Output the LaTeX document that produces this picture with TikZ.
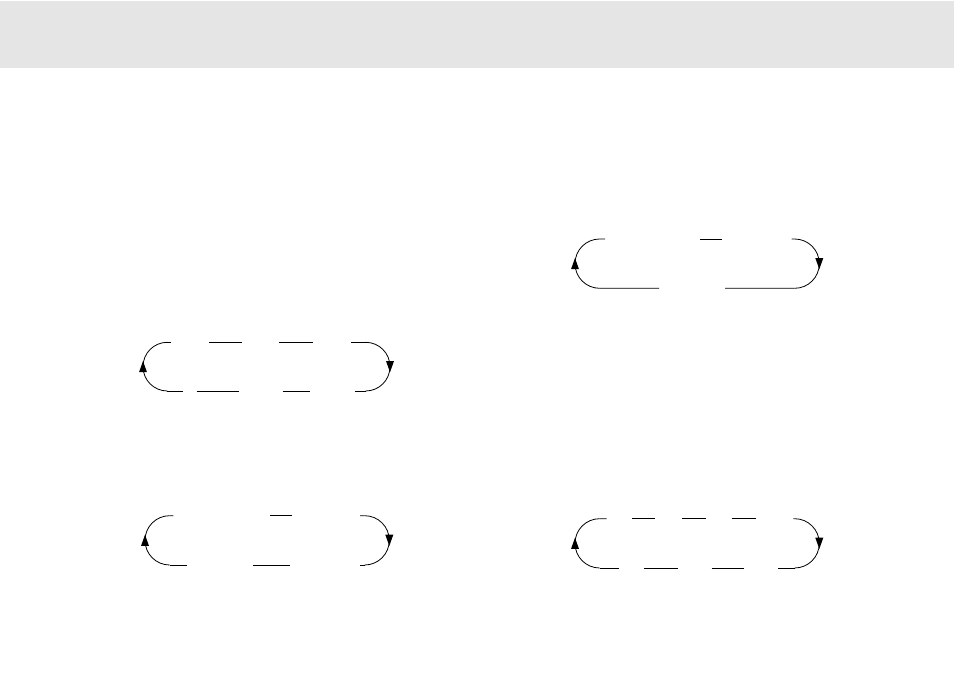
\documentclass[tikz,border=0pt]{standalone}
\usetikzlibrary{decorations.markings}

\begin{document}
\begin{tikzpicture}[x=0.75pt,y=0.75pt,line width=0.6pt,
    loop arc/.style={postaction={decorate},decoration={markings,
      mark=at position 0.5 with {\fill (4.2pt,0) -- (-4.2pt,3pt) -- (-4.2pt,-3pt) -- cycle;}}}]
    \useasboundingbox (0,0) rectangle (954,675);
    \fill[black!10] (0,607) rectangle (954,674);

    % upper left loop
    \coordinate (al) at (167.35,308.35);
    \coordinate (ar) at (365.65,308.35);
    \draw[loop arc] ([shift={(0,-24.35)}]al) arc (270:90:24.35);
    \draw ([shift={(0,24.35)}]al) -- (171,332.7);
    \draw ([shift={(0,-24.35)}]al) -- (182.7,284);
    \draw[loop arc] ([shift={(0,24.35)}]ar) arc (90:-90:24.35);
    \draw (351,332.7) -- ([shift={(0,24.35)}]ar);
    \draw (355,284) -- ([shift={(0,-24.35)}]ar);
    \draw (209,332.7) -- (241.7,332.7);
    \draw (279,332.7) -- (312.7,332.7);
    \draw (196.7,284) -- (239,284);
    \draw (282.7,284) -- (310,284);

    % upper right loop
    \coordinate (bl) at (599.65,411.35);
    \coordinate (br) at (794.65,411.35);
    \draw[loop arc] ([shift={(0,-24.65)}]bl) arc (270:90:24.65);
    \draw ([shift={(0,24.65)}]bl) -- (605,436);
    \draw ([shift={(0,-24.65)}]bl) -- (659,386.7);
    \draw[loop arc] ([shift={(0,24.65)}]br) arc (90:-90:24.65);
    \draw (791.7,436) -- ([shift={(0,24.65)}]br);
    \draw (725,386.7) -- ([shift={(0,-24.65)}]br);
    \draw (700,436) -- (722,436);

    % lower left loop
    \coordinate (cl) at (169.65,134.65);
    \coordinate (cr) at (364.65,134.65);
    \draw[loop arc] ([shift={(0,-24.65)}]cl) arc (270:90:24.65);
    \draw ([shift={(0,24.65)}]cl) -- (173.3,159.3);
    \draw ([shift={(0,-24.65)}]cl) -- (186.7,110);
    \draw[loop arc] ([shift={(0,24.65)}]cr) arc (90:-90:24.65);
    \draw (360,159.3) -- ([shift={(0,24.65)}]cr);
    \draw (360,110) -- ([shift={(0,-24.65)}]cr);
    \draw (270,159.3) -- (292,159.3);
    \draw (253,110) -- (290,110);

    % lower right loop
    \coordinate (dl) at (599.65,131.65);
    \coordinate (dr) at (794.65,131.65);
    \draw[loop arc] ([shift={(0,-24.65)}]dl) arc (270:90:24.65);
    \draw ([shift={(0,24.65)}]dl) -- (606.7,156.3);
    \draw ([shift={(0,-24.65)}]dl) -- (619.3,107);
    \draw[loop arc] ([shift={(0,24.65)}]dr) arc (90:-90:24.65);
    \draw (793.3,156.3) -- ([shift={(0,24.65)}]dr);
    \draw (778.3,107) -- ([shift={(0,-24.65)}]dr);
    \draw (632.3,156.3) -- (655,156.3);
    \draw (681.7,156.3) -- (705.7,156.3);
    \draw (731.7,156.3) -- (755.7,156.3);
    \draw (644.3,107) -- (678.3,107);
    \draw (711.7,107) -- (744.3,107);
  \end{tikzpicture}
\end{document}
